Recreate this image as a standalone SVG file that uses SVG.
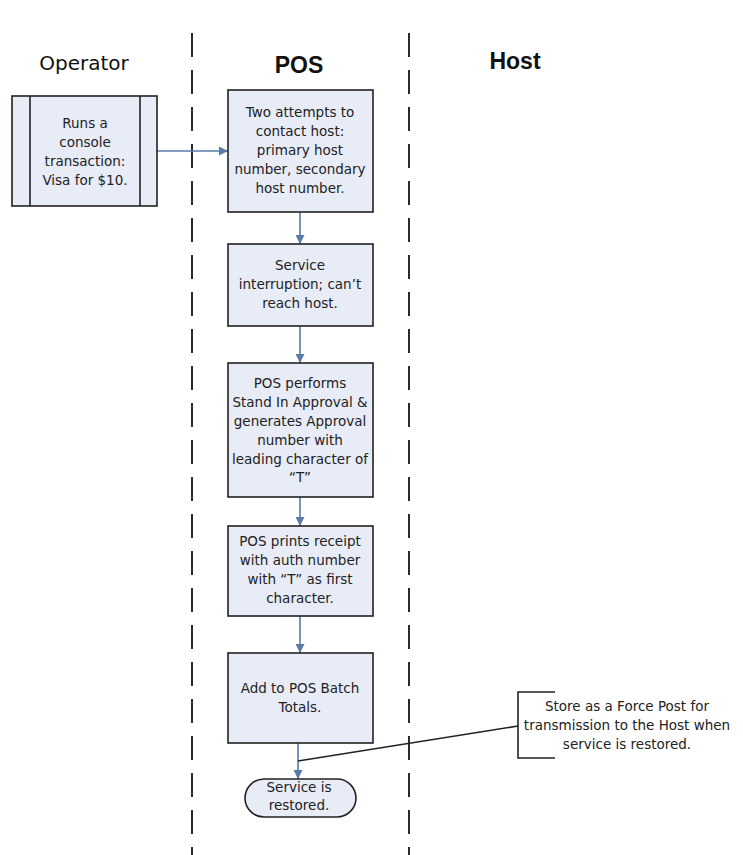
<svg xmlns="http://www.w3.org/2000/svg" width="743" height="855" viewBox="0 0 743 855">
  <defs>
    <marker id="arrow" viewBox="0 0 10 10" refX="10" refY="5" markerWidth="9" markerHeight="9" markerUnits="userSpaceOnUse" orient="auto">
      <path d="M0,0 L10,5 L0,10 z" fill="#5a7aa8"/>
    </marker>
    <style>
      .lane { stroke: #2a2a2a; stroke-width: 2; stroke-dasharray: 24 13; fill: none; }
      .title { font-family: "DejaVu Sans", sans-serif; font-size: 20px; fill: #111; text-anchor: middle; }
      .title-b { font-family: "Liberation Sans", Arial, sans-serif; font-weight: bold; font-size: 23px; fill: #111; text-anchor: middle; }
      .box { fill: #e8ecf7; stroke: #222; stroke-width: 1.6; }
      .txt { font-family: "DejaVu Sans", sans-serif; font-size: 13.5px; fill: #222; text-anchor: middle; }
      .flow { stroke: #5a7aa8; stroke-width: 1.6; fill: none; marker-end: url(#arrow); }
      .note { stroke: #222; stroke-width: 1.6; fill: none; }
    </style>
  </defs>
  <rect width="743" height="855" fill="#ffffff"/>

  <!-- swimlane separators and headings -->
  <g id="lanes">
    <line class="lane" x1="192" y1="33" x2="192" y2="855"/>
    <line class="lane" x1="409" y1="33" x2="409" y2="855"/>
    <text class="title" x="84" y="70">Operator</text>
    <text class="title-b" x="299" y="73">POS</text>
    <text class="title-b" x="515" y="69">Host</text>
  </g>

  <!-- connectors -->
  <g id="connectors">
    <line class="flow" x1="157" y1="151" x2="228" y2="151"/>
    <line class="flow" x1="300" y1="212" x2="300" y2="244"/>
    <line class="flow" x1="300" y1="326" x2="300" y2="363"/>
    <line class="flow" x1="300" y1="497" x2="300" y2="526"/>
    <line class="flow" x1="300" y1="616" x2="300" y2="653"/>
    <line class="flow" x1="298" y1="743" x2="298" y2="779"/>
    <line class="note" x1="518" y1="726" x2="298" y2="761"/>
  </g>

  <!-- Operator: predefined process -->
  <g id="op-console">
    <rect class="box" x="12" y="96" width="145" height="110"/>
    <line class="note" x1="30" y1="96" x2="30" y2="206"/>
    <line class="note" x1="140" y1="96" x2="140" y2="206"/>
    <text class="txt" x="85" y="128">Runs a</text>
    <text class="txt" x="85" y="147">console</text>
    <text class="txt" x="85" y="166">transaction:</text>
    <text class="txt" x="85" y="185">Visa for $10.</text>
  </g>

  <g id="pos-contact">
    <rect class="box" x="228" y="90" width="145" height="122"/>
    <text class="txt" x="300" y="117">Two attempts to</text>
    <text class="txt" x="300" y="136">contact host:</text>
    <text class="txt" x="300" y="155">primary host</text>
    <text class="txt" x="300" y="174">number, secondary</text>
    <text class="txt" x="300" y="193">host number.</text>
  </g>

  <g id="pos-interrupt">
    <rect class="box" x="228" y="244" width="145" height="82"/>
    <text class="txt" x="300" y="270">Service</text>
    <text class="txt" x="300" y="289">interruption; can’t</text>
    <text class="txt" x="300" y="308">reach host.</text>
  </g>

  <g id="pos-standin">
    <rect class="box" x="228" y="363" width="145" height="134"/>
    <text class="txt" x="300" y="388">POS performs</text>
    <text class="txt" x="300" y="407">Stand In Approval &amp;</text>
    <text class="txt" x="300" y="426">generates Approval</text>
    <text class="txt" x="300" y="445">number with</text>
    <text class="txt" x="300" y="464">leading character of</text>
    <text class="txt" x="300" y="482">“T”</text>
  </g>

  <g id="pos-receipt">
    <rect class="box" x="228" y="526" width="145" height="90"/>
    <text class="txt" x="300" y="546">POS prints receipt</text>
    <text class="txt" x="300" y="565">with auth number</text>
    <text class="txt" x="300" y="584">with “T” as first</text>
    <text class="txt" x="300" y="603">character.</text>
  </g>

  <g id="pos-batch">
    <rect class="box" x="228" y="653" width="145" height="90"/>
    <text class="txt" x="300" y="693">Add to POS Batch</text>
    <text class="txt" x="300" y="712">Totals.</text>
  </g>

  <g id="pos-restored">
    <rect class="box" x="245" y="779" width="111" height="38" rx="19" ry="19"/>
    <text class="txt" x="299" y="792">Service is</text>
    <text class="txt" x="299" y="810">restored.</text>
  </g>

  <!-- annotation -->
  <g id="note-forcepost">
    <path class="note" d="M555,692 H518 V758 H555"/>
    <text class="txt" x="627" y="711">Store as a Force Post for</text>
    <text class="txt" x="627" y="730">transmission to the Host when</text>
    <text class="txt" x="627" y="749">service is restored.</text>
  </g>
</svg>
